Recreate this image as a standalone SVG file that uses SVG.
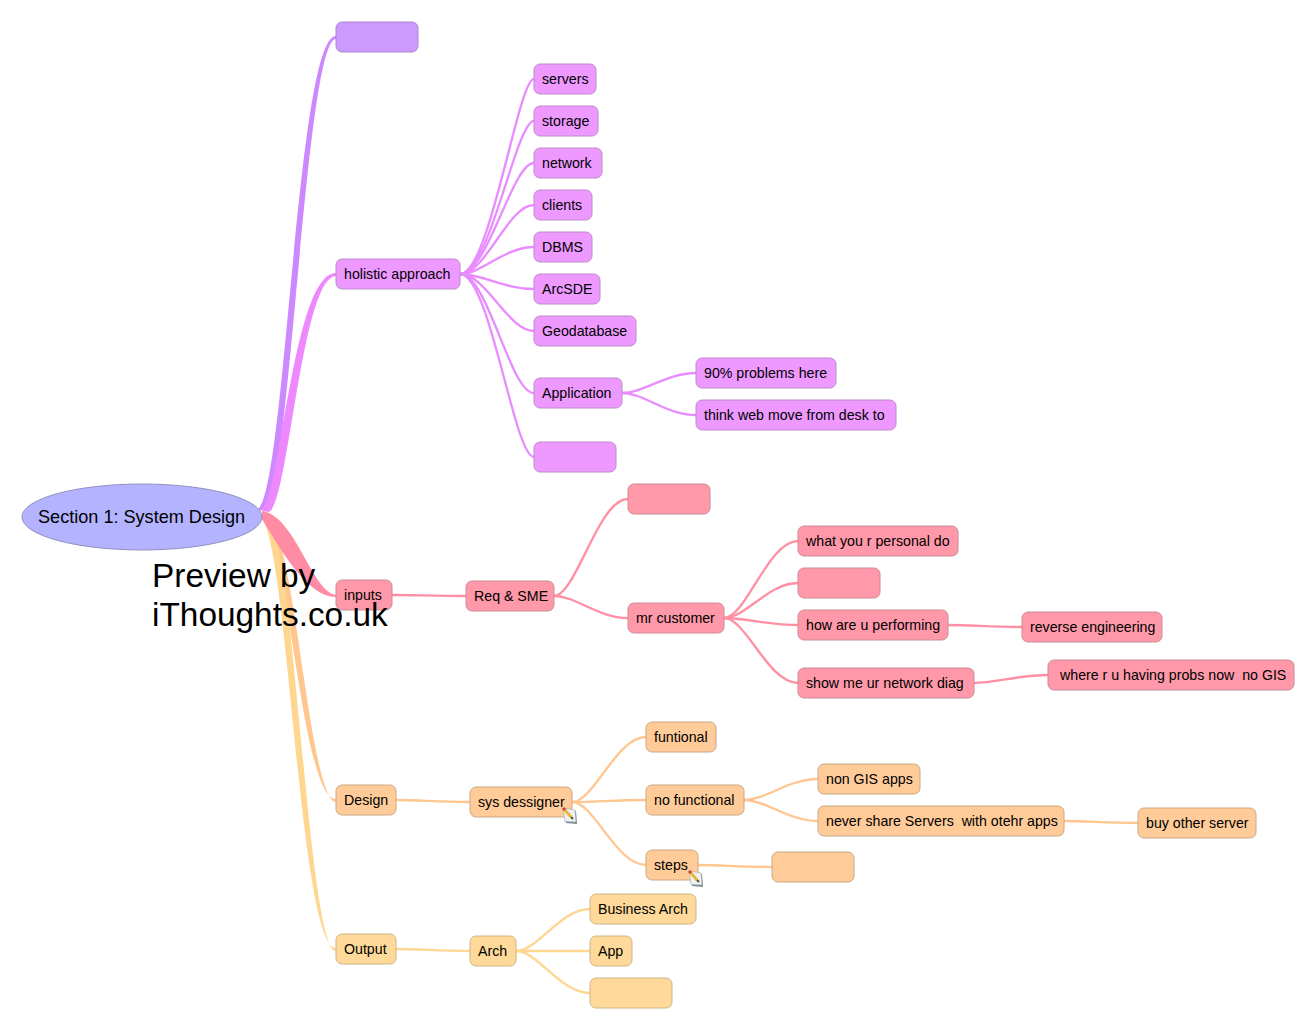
<svg xmlns="http://www.w3.org/2000/svg" xmlns:xlink="http://www.w3.org/1999/xlink" width="1316" height="1030" viewBox="0 0 1316 1030">
<style>
text{font-family:"Liberation Sans",Arial,sans-serif;font-size:14.2px;fill:#000;white-space:pre}
.n{stroke-width:1;rx:6;ry:6}
.c{fill:none;stroke-width:2.3}
.pu{fill:#CC99FF;stroke:#AC86CF}
.ma{fill:#EE99FF;stroke:#BE8ACB}
.pk{fill:#FF99AA;stroke:#CC8A96}
.or{fill:#FFCC99;stroke:#CCA886}
.ye{fill:#FFD999;stroke:#CCB486}
.lm{stroke:#E98CFF}.lp{stroke:#FF8FA3}.lo{stroke:#FFC68F}.ly{stroke:#FFD68F}
</style>
<defs>
<g id="note">
<path d="M1 1L13 3L14 16L3 15Z" fill="#7d8a90"/>
<path d="M0 0L12 2L13 14L2 13.500Z" fill="#eef2f4" stroke="#9aa5aa" stroke-width=".6"/>
<path d="M1 1L8 9" stroke="#e8b830" stroke-width="3"/>
<path d="M8 9L10 11" stroke="#5a4a30" stroke-width="2"/>
<path d="M0 0L2 2" stroke="#d04040" stroke-width="3"/>
</g>
</defs>
<rect width="1316" height="1030" fill="#fff"/>
<g id="connectors">
<path d="M256 510C285 510 296 36 336 36L336 39C305 39 289 512 264 510Z" fill="#CC88FF"/>
<path d="M260 510C280 510 292 273 336 273L336 276C301 276 288 513 268 512Z" fill="#EE88FF"/>
<path d="M258 516C288 516 300 799 336 799L336 802C309 802 294 518 266 518Z" fill="#FFC68F"/>
<path d="M258 516C288 516 298 948 336 948L336 951C307 951 294 518 266 518Z" fill="#FFD68F"/>
<path d="M262 511C295 515 312 592 336 595L336 597C308 597 282 552 262 519Z" fill="#FF8CA3"/>
<g class="c lm">
<path d="M460 274C490 274 518 79 534 79"/>
<path d="M460 274C490 274 516 121 534 121"/>
<path d="M460 274C488 274 512 163 534 163"/>
<path d="M460 274C486 274 508 205 534 205"/>
<path d="M460 274C482 274 504 247 534 247"/>
<path d="M460 274C482 274 504 289 534 289"/>
<path d="M460 274C486 274 508 331 534 331"/>
<path d="M460 274C488 274 510 393 534 393"/>
<path d="M460 274C490 274 514 457 534 457"/>
<path d="M622 393C644 393 666 373 696 373"/>
<path d="M622 393C644 393 666 415 696 415"/>
</g>
<g class="c lp">
<path d="M392 595C414 595 436 596 466 596"/>
<path d="M554 596C576 596 598 499 628 499"/>
<path d="M554 596C576 596 598 618 628 618"/>
<path d="M724 618C746 618 768 541 798 541"/>
<path d="M724 618C746 618 768 583 798 583"/>
<path d="M724 618C746 618 768 625 798 625"/>
<path d="M724 618C746 618 768 683 798 683"/>
<path d="M948 625C970 625 992 627 1022 627"/>
<path d="M974 683C996 683 1018 675 1048 675"/>
</g>
<g class="c lo">
<path d="M396 800C418 800 440 802 470 802"/>
<path d="M572 802C594 802 616 737 646 737"/>
<path d="M572 802C594 802 616 800 646 800"/>
<path d="M572 802C594 802 616 865 646 865"/>
<path d="M744 800C766 800 788 779 818 779"/>
<path d="M744 800C766 800 788 821 818 821"/>
<path d="M1064 821C1086 821 1108 823 1138 823"/>
<path d="M698 865C720 865 742 867 772 867"/>
</g>
<g class="c ly">
<path d="M396 949C418 949 440 951 470 951"/>
<path d="M516 951C538 951 560 909 590 909"/>
<path d="M516 951C538 951 560 951 590 951"/>
<path d="M516 951C538 951 560 993 590 993"/>
</g>
</g>
<g id="root"><ellipse cx="142" cy="517" rx="120" ry="33" fill="#B3B3FF" stroke="#9090BE"/><text x="38" y="523" style="font-size:18.1px">Section 1: System Design</text></g>
<g id="n1"><rect class="n pu" x="336" y="22" width="82" height="30"/></g>
<g id="n2"><rect class="n ma" x="336" y="259" width="124" height="30"/><text x="344" y="279">holistic approach</text></g>
<g id="n3"><rect class="n ma" x="534" y="64" width="62" height="30"/><text x="542" y="84">servers</text></g>
<g id="n4"><rect class="n ma" x="534" y="106" width="64" height="30"/><text x="542" y="126">storage</text></g>
<g id="n5"><rect class="n ma" x="534" y="148" width="68" height="30"/><text x="542" y="168">network</text></g>
<g id="n6"><rect class="n ma" x="534" y="190" width="58" height="30"/><text x="542" y="210">clients</text></g>
<g id="n7"><rect class="n ma" x="534" y="232" width="58" height="30"/><text x="542" y="252">DBMS</text></g>
<g id="n8"><rect class="n ma" x="534" y="274" width="66" height="30"/><text x="542" y="294">ArcSDE</text></g>
<g id="n9"><rect class="n ma" x="534" y="316" width="102" height="30"/><text x="542" y="336">Geodatabase</text></g>
<g id="n10"><rect class="n ma" x="534" y="378" width="88" height="30"/><text x="542" y="398">Application</text></g>
<g id="n11"><rect class="n ma" x="696" y="358" width="140" height="30"/><text x="704" y="378">90% problems here</text></g>
<g id="n12"><rect class="n ma" x="696" y="400" width="200" height="30"/><text x="704" y="420">think web move from desk to</text></g>
<g id="n13"><rect class="n ma" x="534" y="442" width="82" height="30"/></g>
<g id="n14"><rect class="n pk" x="336" y="580" width="56" height="30"/><text x="344" y="600">inputs</text></g>
<g id="n15"><rect class="n pk" x="466" y="581" width="88" height="30"/><text x="474" y="601">Req &amp; SME</text></g>
<g id="n16"><rect class="n pk" x="628" y="484" width="82" height="30"/></g>
<g id="n17"><rect class="n pk" x="628" y="603" width="96" height="30"/><text x="636" y="623">mr customer</text></g>
<g id="n18"><rect class="n pk" x="798" y="526" width="160" height="30"/><text x="806" y="546">what you r personal do</text></g>
<g id="n19"><rect class="n pk" x="798" y="568" width="82" height="30"/></g>
<g id="n20"><rect class="n pk" x="798" y="610" width="150" height="30"/><text x="806" y="630">how are u performing</text></g>
<g id="n21"><rect class="n pk" x="798" y="668" width="176" height="30"/><text x="806" y="688">show me ur network diag</text></g>
<g id="n22"><rect class="n pk" x="1022" y="612" width="140" height="30"/><text x="1030" y="632">reverse engineering</text></g>
<g id="n23"><rect class="n pk" x="1048" y="660" width="246" height="30"/><text x="1060" y="680">where r u having probs now  no GIS</text></g>
<g id="n24"><rect class="n or" x="336" y="785" width="60" height="30"/><text x="344" y="805">Design</text></g>
<g id="n25"><rect class="n or" x="470" y="787" width="102" height="30"/><text x="478" y="807">sys dessigner</text><use xlink:href="#note" href="#note" x="563" y="808"/></g>
<g id="n26"><rect class="n or" x="646" y="722" width="70" height="30"/><text x="654" y="742">funtional</text></g>
<g id="n27"><rect class="n or" x="646" y="785" width="98" height="30"/><text x="654" y="805">no functional</text></g>
<g id="n28"><rect class="n or" x="646" y="850" width="52" height="30"/><text x="654" y="870">steps</text><use xlink:href="#note" href="#note" x="689" y="871"/></g>
<g id="n29"><rect class="n or" x="772" y="852" width="82" height="30"/></g>
<g id="n30"><rect class="n or" x="818" y="764" width="102" height="30"/><text x="826" y="784">non GIS apps</text></g>
<g id="n31"><rect class="n or" x="818" y="806" width="246" height="30"/><text x="826" y="826">never share Servers  with otehr apps</text></g>
<g id="n32"><rect class="n or" x="1138" y="808" width="118" height="30"/><text x="1146" y="828">buy other server</text></g>
<g id="n33"><rect class="n ye" x="336" y="934" width="60" height="30"/><text x="344" y="954">Output</text></g>
<g id="n34"><rect class="n ye" x="470" y="936" width="46" height="30"/><text x="478" y="956">Arch</text></g>
<g id="n35"><rect class="n ye" x="590" y="894" width="106" height="30"/><text x="598" y="914">Business Arch</text></g>
<g id="n36"><rect class="n ye" x="590" y="936" width="42" height="30"/><text x="598" y="956">App</text></g>
<g id="n37"><rect class="n ye" x="590" y="978" width="82" height="30"/></g>
<text x="152" y="587" style="font-size:33.4px">Preview by</text>
<text x="152" y="626" style="font-size:33.4px">iThoughts.co.uk</text>
</svg>
